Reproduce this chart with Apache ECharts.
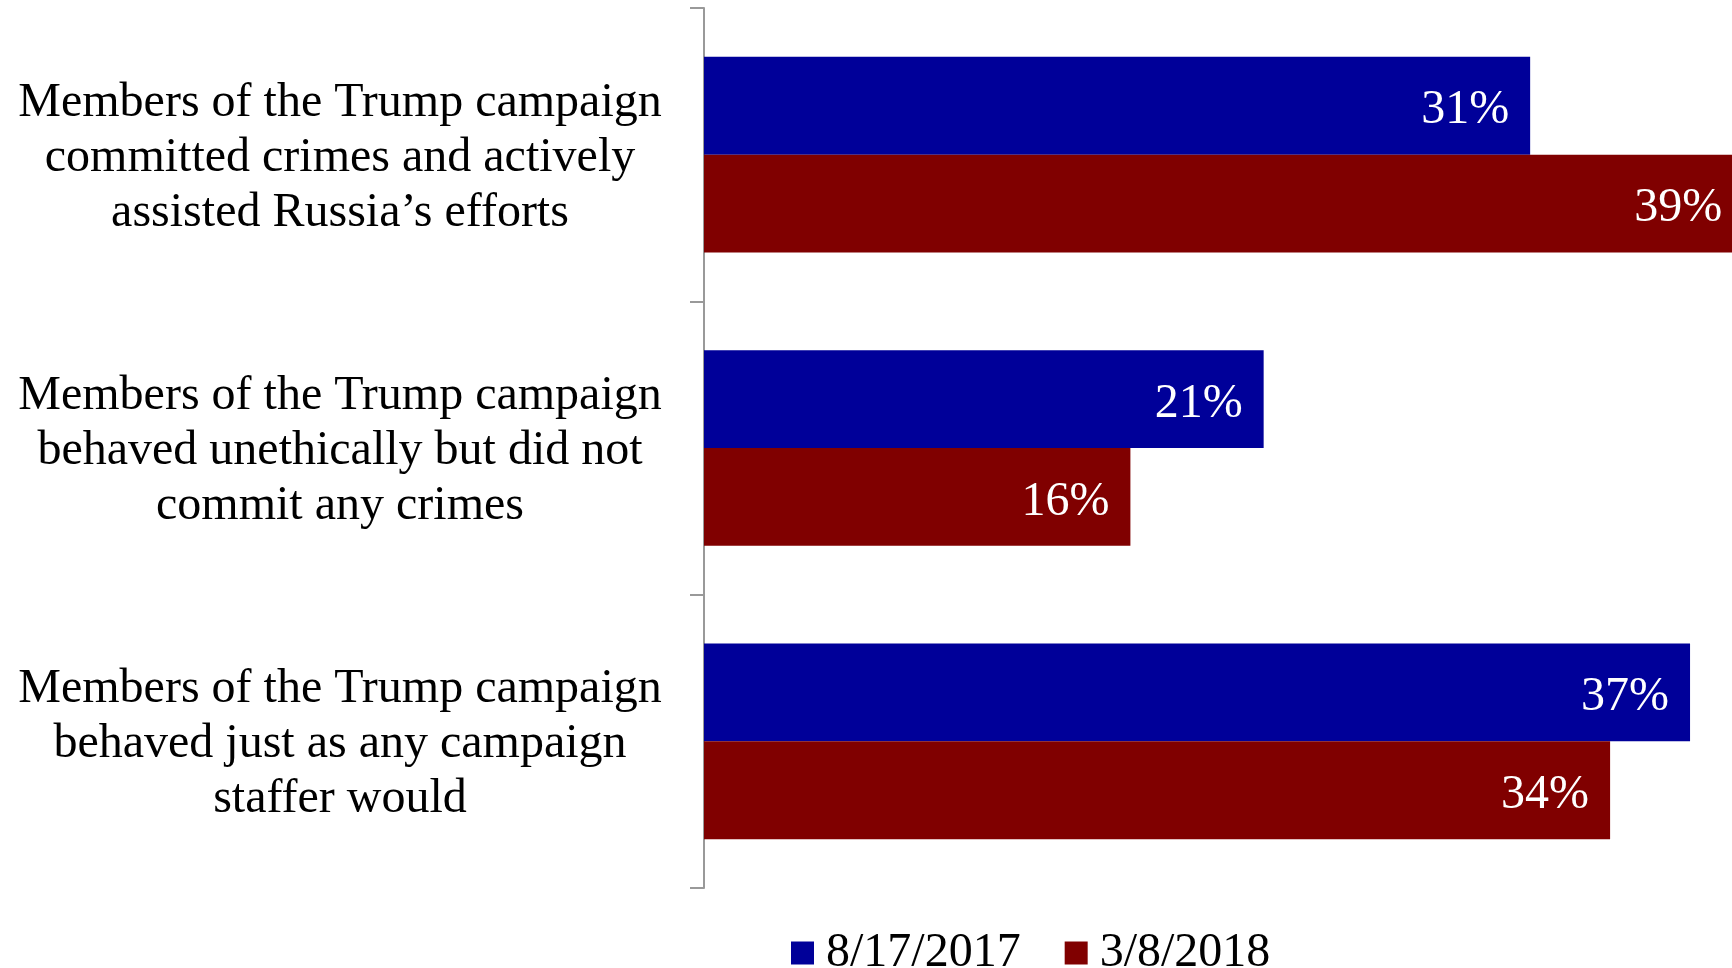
<!DOCTYPE html>
<html>
<head>
<meta charset="utf-8">
<script src="https://cdn.jsdelivr.net/npm/echarts@6/dist/echarts.min.js"></script>
<style>html,body{margin:0;padding:0;background:#fff;}#c{width:1732px;height:968px;}</style>
</head>
<body>
<div id="c"></div>
<script>
const categories = [
  "Members of the Trump campaign\ncommitted crimes and actively\nassisted Russia\u2019s efforts",
  "Members of the Trump campaign\nbehaved unethically but did not\ncommit any crimes",
  "Members of the Trump campaign\nbehaved just as any campaign\nstaffer would"
];
const seriesNames = ["8/17/2017", "3/8/2018"];
const values2017 = [31, 21, 37];
const values2018 = [39, 16, 34];

const font = "'Liberation Serif', 'Times New Roman', serif";
const chart = echarts.init(document.getElementById('c'));
const labelCfg = {
  show: true, position: 'insideRight', distance: 21, color: '#fff',
  fontFamily: font, fontSize: 48, offset: [0, 5], formatter: p => p.value + '%'
};
chart.setOption({
  animation: false,
  backgroundColor: '#fff',
  grid: { left: 704, width: 1066, top: 8, bottom: 80, containLabel: false, outerBoundsMode: 'none' },
  legend: {
    left: 791, top: 929, padding: 0, itemWidth: 23, itemHeight: 23, itemGap: 44,
    icon: 'rect',
    textStyle: { fontFamily: font, fontSize: 48, color: '#000', padding: [0, 0, 0, 7] },
    data: seriesNames
  },
  xAxis: { type: 'value', min: 0, max: 40, show: false },
  yAxis: {
    type: 'category', inverse: true, data: categories,
    axisLine: { show: true, lineStyle: { color: '#999', width: 2 } },
    axisTick: { show: true, length: 14, lineStyle: { color: '#999', width: 2 } },
    axisLabel: {
      align: 'center', margin: 364, color: '#000',
      formatter: v => '{s| }\n' + v.split('\n').map(l => '{a|' + l + '}').join('\n'),
      rich: {
        s: { fontSize: 2, lineHeight: 7 },
        a: { fontFamily: font, fontSize: 48, lineHeight: 55, color: '#000' }
      }
    }
  },
  series: [
    { name: seriesNames[0], type: 'bar', data: values2017, barGap: '0%', barCategoryGap: '33.3%',
      itemStyle: { color: '#000099' }, label: labelCfg },
    { name: seriesNames[1], type: 'bar', data: values2018, barGap: '0%', barCategoryGap: '33.3%',
      itemStyle: { color: '#800000' }, label: labelCfg }
  ]
});
</script>
</body>
</html>
